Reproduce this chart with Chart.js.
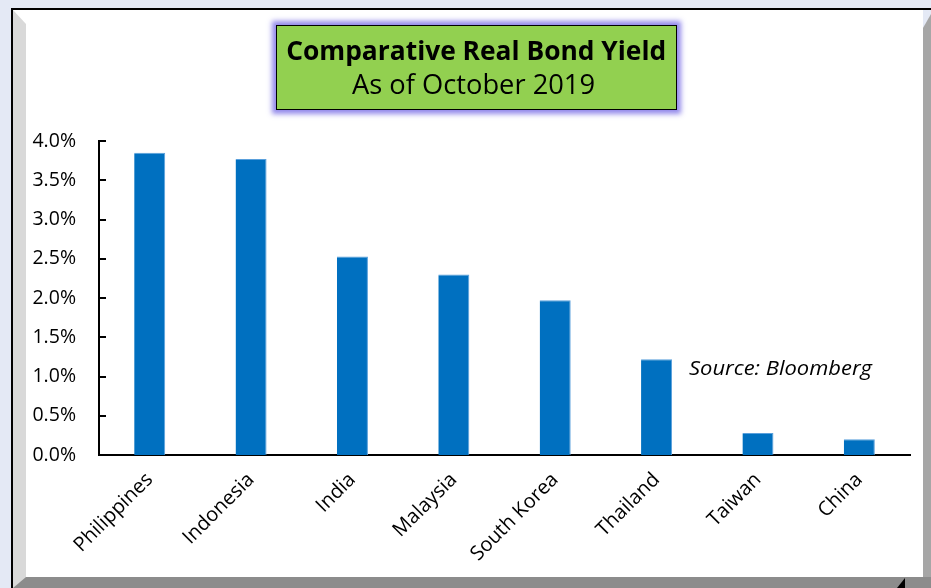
<!DOCTYPE html>
<html>
<head>
<meta charset="utf-8">
<script src="https://cdn.jsdelivr.net/npm/chart.js@4"></script>
<style>
  html, body { margin:0; padding:0; }
  body { width:931px; height:588px; background:#e4e9f5; position:relative; overflow:hidden; font-family:"Open Sans", sans-serif; }
  .abs { position:absolute; }
  #topline { left:11px; top:8px; width:920px; height:2px; background:#000; }
  #leftline { left:11px; top:8px; width:2px; height:580px; background:#000; }
  #panel { left:13px; top:10px; width:910px; height:567px; background:#fff; }
  #lbevel { left:13px; top:10px; width:13px; height:578px; background:#d9d9d9; clip-path:polygon(0 0, 100% 14px, 100% 100%, 0 100%); }
  #rbevel { left:923px; top:14px; width:8px; height:574px; background:#a6a6a6; clip-path:polygon(0 14px, 100% 0, 100% 100%, 0 100%); }
  #bbevel { left:13px; top:577px; width:918px; height:11px; background:#8c8c8c; clip-path:polygon(13px 0, 100% 0, 100% 100%, 0 100%); }
  #tri { left:897px; top:578px; width:8px; height:10px; background:#000; clip-path:polygon(100% 0, 100% 100%, 0 100%); }
  #titlebox { left:276px; top:25px; width:401px; height:85px; box-sizing:border-box; background:#92d050; border:1.5px solid #000; box-shadow:0 0 5px 4px rgba(128,118,232,0.85); }
  .tline { position:absolute; left:276px; width:401px; text-align:center; font-size:27.5px; line-height:33px; color:#000; white-space:nowrap; }
  .tline span { display:inline-block; transform-origin:center center; }
  #t1 { top:33px; font-weight:700; }
  #t2 { top:67px; font-weight:400; }
  #src { left:689px; top:358px; font-size:20px; line-height:20px; font-style:italic; color:#000; white-space:nowrap; transform-origin:left center; }
  canvas { position:absolute; left:0; top:0; }
</style>
</head>
<body>
<div class="abs" id="panel"></div>
<div class="abs" id="lbevel"></div>
<div class="abs" id="rbevel"></div>
<div class="abs" id="bbevel"></div>
<div class="abs" id="tri"></div>
<div class="abs" id="topline"></div>
<div class="abs" id="leftline"></div>
<canvas id="c" width="931" height="588"></canvas>
<div class="abs" id="titlebox"></div>
<div class="tline" id="t1"><span data-w="380" data-dx="0">Comparative Real Bond Yield</span></div>
<div class="tline" id="t2"><span data-w="243" data-dx="-3">As of October 2019</span></div>
<div class="abs" id="src" data-w="183">Source: Bloomberg</div>
<script>
// ---- data ----
const categories = ["Philippines", "Indonesia", "India", "Malaysia", "South Korea", "Thailand", "Taiwan", "China"];
const realYield = [3.85, 3.77, 2.53, 2.30, 1.97, 1.22, 0.28, 0.20];
const yTickValues = [0, 0.5, 1.0, 1.5, 2.0, 2.5, 3.0, 3.5, 4.0];

// fit title/source text widths
document.querySelectorAll('[data-w]').forEach(el => {
  const w = el.getBoundingClientRect().width;
  const s = parseFloat(el.dataset.w) / w;
  const dx = parseFloat(el.dataset.dx || 0);
  el.style.transform = 'translateX(' + dx + 'px) scaleX(' + s + ')';
});

const innerTicks = {
  id: 'innerTicks',
  afterDraw(chart) {
    const y = chart.scales.y, ctx = chart.ctx;
    ctx.save();
    ctx.strokeStyle = '#000';
    ctx.lineWidth = 2;
    y.ticks.forEach(t => {
      const py = Math.round(y.getPixelForValue(t.value));
      ctx.beginPath();
      ctx.moveTo(y.right, py);
      ctx.lineTo(y.right + 7, py);
      ctx.stroke();
    });
    ctx.restore();
  }
};

new Chart(document.getElementById('c'), {
  type: 'bar',
  data: {
    labels: categories,
    datasets: [{
      data: realYield,
      backgroundColor: '#0070c0',
      borderColor: '#5aa0dc',
      borderWidth: { top: 1, right: 1, left: 0, bottom: 0 },
      borderSkipped: 'bottom',
      barPercentage: 0.306,
      categoryPercentage: 1
    }]
  },
  options: {
    responsive: false,
    devicePixelRatio: 1,
    animation: false,
    layout: { padding: { left: 0, top: 141, right: 21, bottom: 0 } },
    plugins: { legend: { display: false }, tooltip: { enabled: false }, title: { display: false } },
    scales: {
      x: {
        grid: { display: false, drawTicks: false },
        border: { display: true, color: '#000', width: 2 },
        ticks: {
          color: '#000',
          font: { family: 'Open Sans', size: 20 },
          minRotation: 45, maxRotation: 45,
          padding: 13,
          autoSkip: false
        },
        afterFit(s) { s.height = 133; }
      },
      y: {
        min: 0, max: 4,
        grid: { display: false, drawTicks: false },
        border: { display: true, color: '#000', width: 2 },
        afterBuildTicks(s) { s.ticks = yTickValues.map(v => ({ value: v })); },
        ticks: {
          color: '#000',
          font: { family: 'Open Sans', size: 19.5 },
          padding: 23,
          callback: v => Number(v).toFixed(1) + '%'
        },
        afterFit(s) { s.width = 99; }
      }
    }
  },
  plugins: [innerTicks]
});
</script>
</body>
</html>
